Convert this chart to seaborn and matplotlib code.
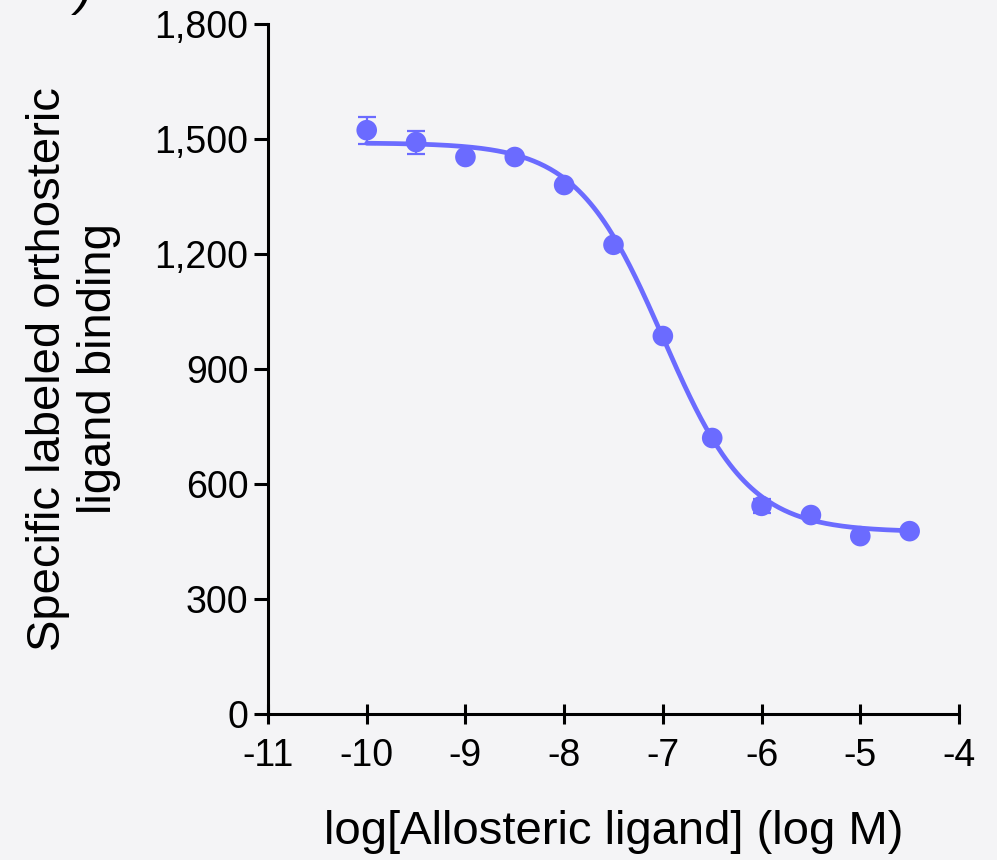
import numpy as np
import pandas as pd
import seaborn as sns
import matplotlib
matplotlib.use("Agg")
import matplotlib.pyplot as plt
from matplotlib.ticker import FuncFormatter

log_conc = [-10, -9.5, -9, -8.5, -8, -7.5, -7, -6.5, -6, -5.5, -5, -4.5]
binding = [1523, 1492, 1453, 1453, 1380, 1224, 986, 720, 543, 519, 464, 477]
sem = [35, 30, 0, 0, 0, 0, 0, 0, 18, 0, 0, 0]

# fitted 4-parameter logistic
fit_top = 1490
fit_bottom = 475
fit_logic50 = -7.0
fit_hill = 1.0

x_ticks = [-11, -10, -9, -8, -7, -6, -5, -4]
y_ticks = [0, 300, 600, 900, 1200, 1500, 1800]

color = "#6b6bff"
bg = "#f4f4f6"

sns.set_style("ticks")
plt.rcParams["font.family"] = ["Liberation Sans", "DejaVu Sans"]
plt.rcParams["text.color"] = "black"
plt.rcParams["axes.labelcolor"] = "black"

fig = plt.figure(figsize=(9.97, 8.6), dpi=100, facecolor=bg)
ax = fig.add_axes([268 / 997, 1 - 714 / 860, (959 - 268) / 997, (714 - 24) / 860])
ax.set_facecolor(bg)

df = pd.DataFrame({"x": log_conc, "y": binding, "sem": sem})

xs = np.linspace(min(log_conc), max(log_conc), 300)
ys = fit_bottom + (fit_top - fit_bottom) / (1 + 10 ** ((xs - fit_logic50) * fit_hill))
sns.lineplot(x=xs, y=ys, ax=ax, color=color, lw=3.4, zorder=2)

for xi, yi, ei in zip(log_conc, binding, sem):
    if ei > 0:
        ax.errorbar(xi, yi, yerr=ei, fmt="none", ecolor=color, elinewidth=1.6,
                    capsize=6.5, capthick=1.6, zorder=3)
sns.scatterplot(data=df, x="x", y="y", ax=ax, color=color, s=220,
                edgecolor="none", zorder=4, legend=False)

ax.set_xlim(-11, -4)
ax.set_ylim(0, 1800)
ax.set_xticks(x_ticks)
ax.set_yticks(y_ticks)
ax.yaxis.set_major_formatter(FuncFormatter(lambda v, p: f"{int(v):,}"))
ax.xaxis.set_major_formatter(FuncFormatter(lambda v, p: f"{int(v)}"))
for s in ["top", "right"]:
    ax.spines[s].set_visible(False)
for s in ["left", "bottom"]:
    ax.spines[s].set_linewidth(2.2)
    ax.spines[s].set_color("black")
ax.tick_params(axis="both", width=2.2, length=10, labelsize=27, colors="black", pad=4)
ax.tick_params(axis="x", direction="inout", length=14, pad=10)
ax.set_xlabel("log[Allosteric ligand] (log M)", fontsize=34, labelpad=26)
ax.set_ylabel("Specific labeled orthosteric\nligand binding", fontsize=34, labelpad=24)

fig.text(76 / 997, 1 - (-8) / 860, ")", fontsize=36, ha="left", va="center", fontstyle="italic")

fig.savefig("out.png", dpi=100, facecolor=bg)
